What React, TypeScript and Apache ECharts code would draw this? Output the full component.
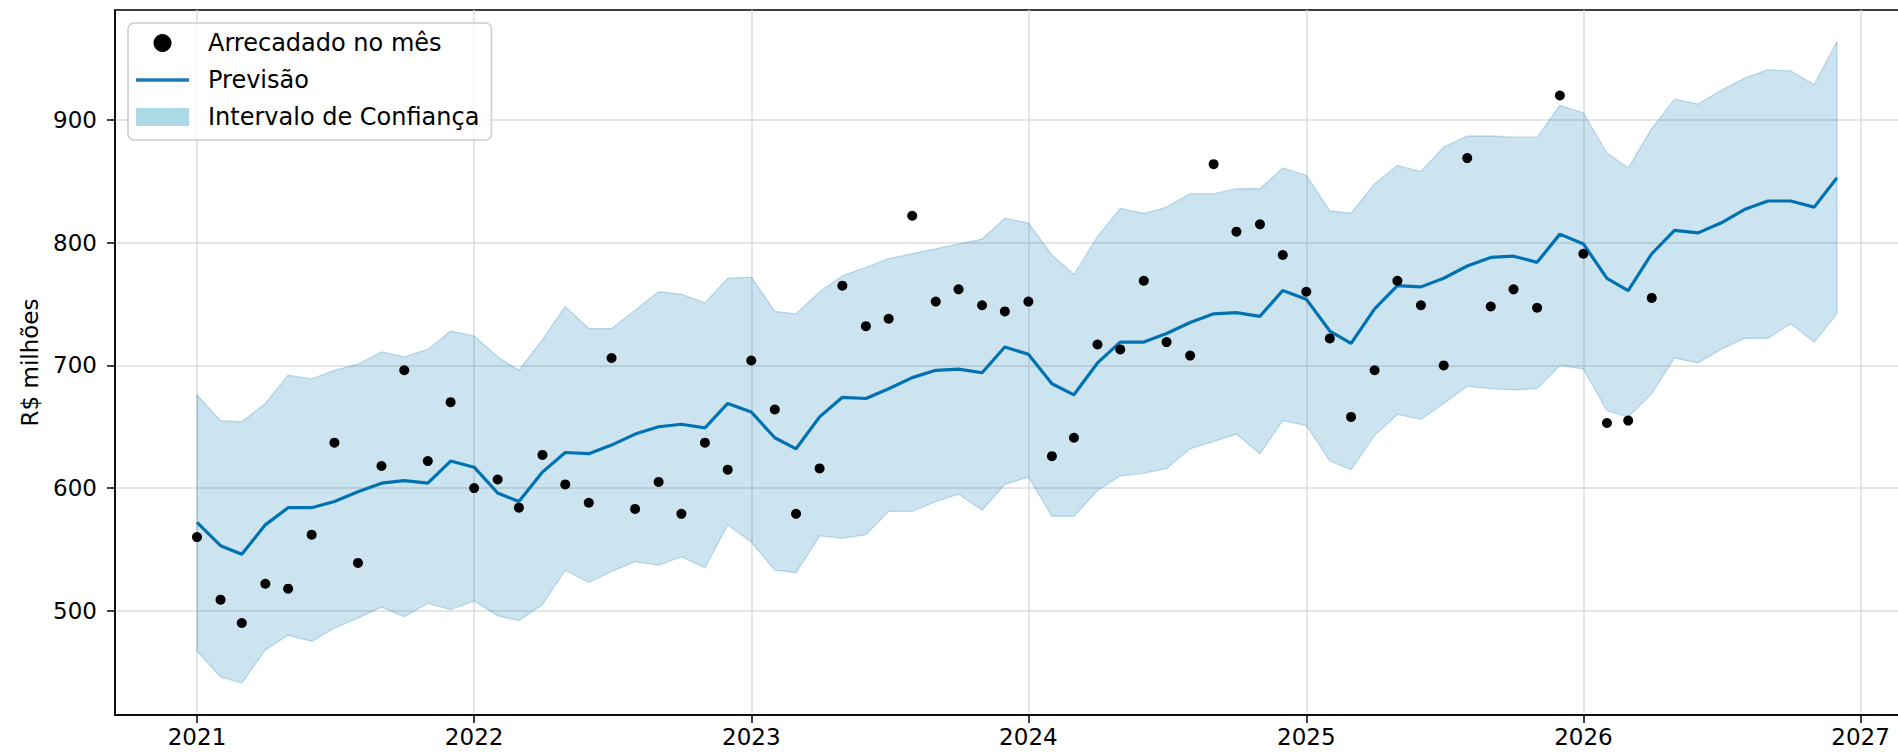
import React, { useEffect, useRef } from "react";
import * as echarts from "echarts";

const FONT = "DejaVu Sans";

// Monthly series, starting 2021-01
const startYear = 2021;
const actual = [
  560, 509, 490, 522, 518, 562, 637, 539, 618, 696, 622, 670,
  600, 607, 584, 627, 603, 588, 706, 583, 605, 579, 637, 615,
  704, 664, 579, 616, 765, 732, 738, 822, 752, 762, 749, 744,
  752, 626, 641, 717, 713, 769, 719, 708, 864, 809, 815, 790,
  760, 722, 658, 696, 769, 749, 700, 869, 748, 762, 747, 920,
  791, 653, 655, 755,
];
const forecast = [
  572, 553, 546, 570, 584, 584, 589, 597, 604, 606, 604, 622,
  617, 596, 589, 613, 629, 628, 635, 644, 650, 652, 649, 669,
  662, 641, 632, 658, 674, 673, 681, 690, 696, 697, 694, 715,
  709, 685, 676, 702, 719, 719, 726, 735, 742, 743, 740, 761,
  754, 728, 718, 746, 765, 764, 771, 781, 788, 789, 784, 807,
  799, 771, 761, 791, 810, 808, 816, 827, 834, 834, 829, 853,
];
const upper = [
  676, 655, 654, 669, 692, 689, 696, 701, 711, 707, 713, 728,
  724, 707, 696, 721, 748, 730, 730, 745, 760, 758, 751, 771,
  772, 744, 742, 760, 773, 780, 787, 791, 795, 799, 803, 820,
  816, 790, 774, 805, 828, 824, 829, 840, 840, 844, 844, 861,
  855, 826, 824, 848, 863, 858, 878, 887, 887, 886, 886, 912,
  906, 873, 861, 893, 917, 913, 924, 934, 941, 940, 929, 964,
];
const lower = [
  467, 446, 441, 468, 480, 475, 486, 494, 503, 495, 506, 501,
  508, 496, 492, 505, 533, 523, 532, 540, 537, 544, 535, 570,
  556, 533, 531, 561, 559, 562, 581, 581, 589, 595, 582, 603,
  609, 577, 577, 598, 610, 612, 616, 632, 638, 644, 628, 655,
  651, 622, 615, 643, 660, 656, 669, 683, 681, 680, 681, 700,
  697, 663, 658, 677, 706, 702, 713, 722, 722, 734, 719, 742,
];
const yearTicks = [2021, 2022, 2023, 2024, 2025, 2026, 2027];
const yTicks = [500, 600, 700, 800, 900];

const monthTs = (i: number) => Date.UTC(startYear + Math.floor(i / 12), i % 12, 1);
const yearTs = yearTicks.map((y) => Date.UTC(y, 0, 1));

export default function App() {
  const ref = useRef<HTMLDivElement>(null);
  useEffect(() => {
    if (!ref.current) return;
    const chart = echarts.init(ref.current, undefined, { renderer: "svg" });
    const bandRows = upper.map((v, i) => [monthTs(i), lower[i], v]);
    const fcData = forecast.map((v, i) => [monthTs(i), v]);
    const actData = actual.map((v, i) => [monthTs(i), v]);
    const edgeColor = "rgba(0,114,178,0.22)";
    chart.setOption({
      animation: false,
      backgroundColor: "#ffffff",
      textStyle: { fontFamily: FONT },
      grid: {
        left: 115,
        top: 10,
        right: 0,
        bottom: 40,
        show: true,
        borderColor: "#000",
        borderWidth: 1.5,
        containLabel: false,
      },
      legend: {
        orient: "vertical",
        left: 128,
        top: 23,
        itemWidth: 53,
        itemHeight: 18,
        itemGap: 13,
        padding: [8, 12, 11, 8],
        backgroundColor: "rgba(255,255,255,0.8)",
        borderColor: "#cccccc",
        borderWidth: 1.5,
        borderRadius: 6,
        symbolKeepAspect: true,
        selectedMode: false,
        textStyle: { fontSize: 24, color: "#000", fontFamily: FONT, padding: [0, 0, 0, 14] },
        data: [
          { name: "Arrecadado no mês", icon: "circle", itemStyle: { color: "#000", opacity: 1 } },
          { name: "Previsão", icon: "path://M0,0H53V3.5H0Z", itemStyle: { color: "#1f77b4" } },
          { name: "Intervalo de Confiança", icon: "rect", itemStyle: { color: "#add8e6" } },
        ],
      },
      xAxis: {
        type: "value",
        min: Date.UTC(2020, 8, 15),
        max: Date.UTC(2027, 2, 19),
        axisLine: { show: true, lineStyle: { color: "#000", width: 1.5 } },
        axisTick: { show: true, length: 8, lineStyle: { color: "#000", width: 1.5 }, customValues: yearTs },
        axisLabel: {
          customValues: yearTs,
          formatter: (v: number) => String(new Date(v).getUTCFullYear()),
          fontSize: 23,
          color: "#000",
          fontFamily: FONT,
          margin: 10,
        },
        splitLine: { show: true, lineStyle: { color: "#dcdcdc", width: 1.5 } },
      },
      yAxis: {
        type: "value",
        min: 415,
        max: 989.7,
        name: "R$ milhões",
        nameLocation: "middle",
        nameGap: 74,
        nameTextStyle: { fontSize: 23, color: "#000", fontFamily: FONT },
        axisLine: { show: true, lineStyle: { color: "#000", width: 1.5 } },
        axisTick: { show: true, length: 8, lineStyle: { color: "#000", width: 1.5 }, customValues: yTicks },
        axisLabel: { customValues: yTicks, fontSize: 23, color: "#000", fontFamily: FONT, margin: 18 },
        splitLine: { show: true, lineStyle: { color: "#dcdcdc", width: 1.5 } },
      },
      series: [
        {
          name: "Intervalo de Confiança",
          type: "custom",
          data: bandRows,
          encode: { x: 0, y: [1, 2] },
          silent: true,
          z: 1,
          renderItem: (params: any, api: any) => {
            if (params.dataIndex !== 0) return null;
            const up = upper.map((v, i) => api.coord([monthTs(i), v]));
            const lo = lower.map((v, i) => api.coord([monthTs(i), v]));
            return {
              type: "polygon",
              shape: { points: up.concat(lo.slice().reverse()) },
              style: { fill: "rgba(0,114,178,0.2)", stroke: edgeColor, lineWidth: 1.3 },
            };
          },
        },
        {
          name: "Previsão",
          type: "line",
          data: fcData,
          symbol: "none",
          lineStyle: { color: "#0072B2", width: 3.2 },
          z: 2,
        },
        {
          name: "Arrecadado no mês",
          type: "scatter",
          data: actData,
          symbol: "circle",
          symbolSize: 10,
          itemStyle: { color: "#000", opacity: 1 },
          z: 3,
        },
      ],
    });
    return () => chart.dispose();
  }, []);
  return (
    <div style={{ position: "absolute", left: 0, top: 0, width: 1898, height: 755, overflow: "hidden", background: "#fff" }}>
      <div ref={ref} style={{ width: 1919, height: 755 }} />
    </div>
  );
}
